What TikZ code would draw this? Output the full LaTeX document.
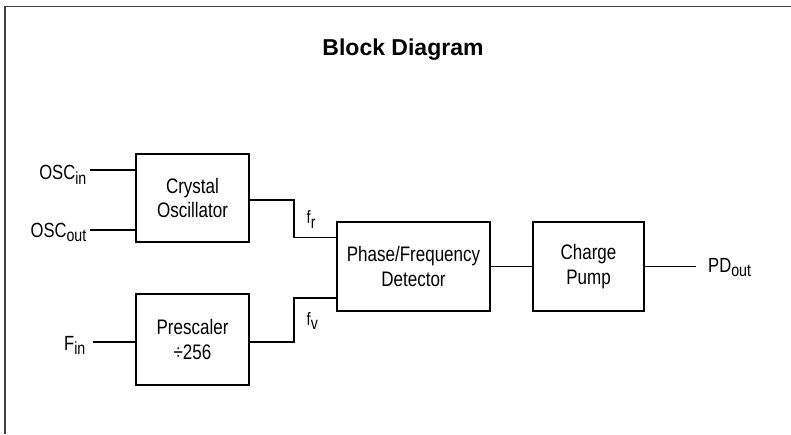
\documentclass[tikz,border=0pt]{standalone}
\usepackage{fontspec}
\setmainfont{Liberation Sans}
\newfontfamily\narrowfont{Liberation Sans}[FakeStretch=0.81]
\newcommand{\sbs}[1]{\raisebox{-4.5pt}{\fontsize{17.5}{17.5}\selectfont #1}}
\begin{document}
\begin{tikzpicture}[x=1pt,y=-1pt,
  blk/.style={draw, line width=2pt, rectangle, inner sep=0pt, align=center,
    font=\narrowfont\fontsize{21}{24.4}\selectfont},
  wire/.style={line width=1.7pt},
  lbl/.style={inner sep=0pt, font=\narrowfont\fontsize{20.5}{24}\selectfont},
  flbl/.style={inner sep=0pt, font=\narrowfont\fontsize{18}{20}\selectfont},
  frame/.style={line width=1.4pt, draw=black!75}]
\useasboundingbox (0,0) rectangle (791,434);
\draw[frame] (5,434) -- (5,6.5) -- (791,6.5);
\node[inner sep=0pt, anchor=base, font=\bfseries\fontsize{23}{26}\selectfont] (title) at (403,55) {Block Diagram};

\node[blk, minimum width=113pt, minimum height=88pt] (cryst) at (192.5,198) {Crystal\\Oscillator};
\node[blk, minimum width=113pt, minimum height=91pt] (presc) at (192.5,339.5) {Prescaler\\\char"00F7 256};
\node[blk, minimum width=153pt, minimum height=89pt] (pfd) at (413.5,266.5) {Phase/Frequency\\Detector};
\node[blk, minimum width=111pt, minimum height=89pt] (cp) at (588.5,266.5) {Charge\\Pump};

\node[lbl, anchor=base east] (oscin) at (86.5,179.5) {OSC\sbs{in}};
\node[lbl, anchor=base east] (oscout) at (86.5,237.3) {OSC\sbs{out}};
\node[lbl, anchor=base east] (fin) at (85.5,350) {F\sbs{in}};
\node[lbl, anchor=base west] (pdout) at (708,272) {PD\sbs{out}};
\node[flbl, anchor=base west] (fr) at (306.5,223.5) {f\sbs{r}};
\node[flbl, anchor=base west] (fv) at (306.5,325) {f\sbs{v}};

\coordinate (ci) at (89.5,170);
\coordinate (co) at (90,230);
\coordinate (fi) at (92.5,342);
\coordinate (po) at (696,266.5);
\coordinate (r1) at (294,200);
\coordinate (r2) at (294,237.5);
\coordinate (v1) at (294,342);
\coordinate (v2) at (294,298);

\draw[wire] (ci) -- (cryst.west |- ci);
\draw[wire] (co) -- (cryst.west |- co);
\draw[wire] (fi) -- (presc.west |- fi);
\draw[wire] (cryst.east |- r1) -- (r1) -- (r2) -- (pfd.west |- r2);
\draw[wire] (presc.east |- v1) -- (v1) -- (v2) -- (pfd.west |- v2);
\draw[wire] (pfd.east) -- (cp.west);
\draw[wire] (cp.east) -- (po);
\end{tikzpicture}
\end{document}
